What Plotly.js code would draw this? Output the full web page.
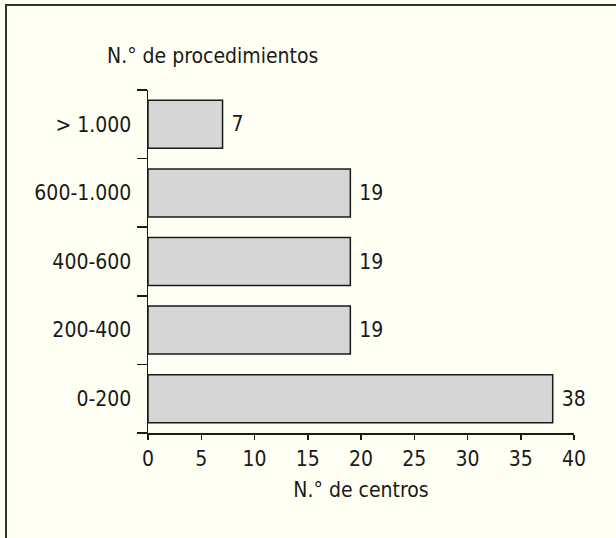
<!DOCTYPE html>
<html>
<head>
<meta charset="utf-8">
<script src="https://cdn.plot.ly/plotly-3.0.1.min.js"></script>
<style>
html,body{margin:0;padding:0;background:#fffff3;}
#frame{position:absolute;left:5px;top:4px;width:620px;height:540px;border-left:2px solid #333;border-top:2px solid #333;box-sizing:border-box;}
#chart{position:absolute;left:0;top:0;width:616px;height:538px;}
</style>
</head>
<body>
<div id="frame"></div>
<div id="chart"></div>
<script>
const categories = ["0-200", "200-400", "400-600", "600-1.000", "> 1.000"];
const centros = [38, 19, 19, 19, 7];
const xTicks = [0, 5, 10, 15, 20, 25, 30, 35, 40];
const yTitle = "N.° de procedimientos";
const xTitle = "N.° de centros";

const FONT = "'Liberation Sans Narrow', 'Arial Narrow', 'DejaVu Sans Condensed', sans-serif";

const trace = {
  type: "bar",
  orientation: "h",
  y: categories,
  x: centros,
  width: 0.7,
  marker: {color: "#d6d6d6", line: {color: "#1a1a1a", width: 1.5}},
  text: centros.map(v => String(v)),
  texttemplate: " %{text}",
  textposition: "outside",
  cliponaxis: false,
  textfont: {family: FONT, size: 21, color: "#1a1a1a"},
  hoverinfo: "none"
};

const layout = {
  width: 616,
  height: 538,
  margin: {l: 148, r: 42, t: 90, b: 105},
  paper_bgcolor: "rgba(0,0,0,0)",
  plot_bgcolor: "rgba(0,0,0,0)",
  showlegend: false,
  font: {family: FONT, size: 21, color: "#1a1a1a"},
  xaxis: {
    range: [0, 40],
    tickvals: xTicks,
    ticktext: xTicks.map(String),
    showgrid: false,
    zeroline: false,
    showline: true,
    linecolor: "#1a1a1a",
    linewidth: 1.5,
    ticks: "outside",
    ticklen: 5,
    tickwidth: 1.5,
    tickcolor: "#1a1a1a",
    ticklabelstandoff: 1,
    title: {text: xTitle, standoff: 12, font: {family: FONT, size: 21, color: "#1a1a1a"}},
    fixedrange: true
  },
  yaxis: {
    type: "category",
    categoryorder: "array",
    categoryarray: categories,
    showgrid: false,
    zeroline: false,
    showline: true,
    linecolor: "#1a1a1a",
    linewidth: 1.5,
    ticks: "outside",
    tickson: "boundaries",
    ticklen: 10,
    tickwidth: 1.5,
    tickcolor: "#1a1a1a",
    ticklabelstandoff: 11,
    fixedrange: true
  },
  bargap: 0.3,
  annotations: [{
    text: yTitle,
    xref: "paper", yref: "paper",
    x: -0.1, y: 1.1,
    xanchor: "left", yanchor: "middle",
    showarrow: false,
    font: {family: FONT, size: 21, color: "#1a1a1a"}
  }]
};

Plotly.newPlot("chart", [trace], layout, {displayModeBar: false, staticPlot: true});
</script>
</body>
</html>
